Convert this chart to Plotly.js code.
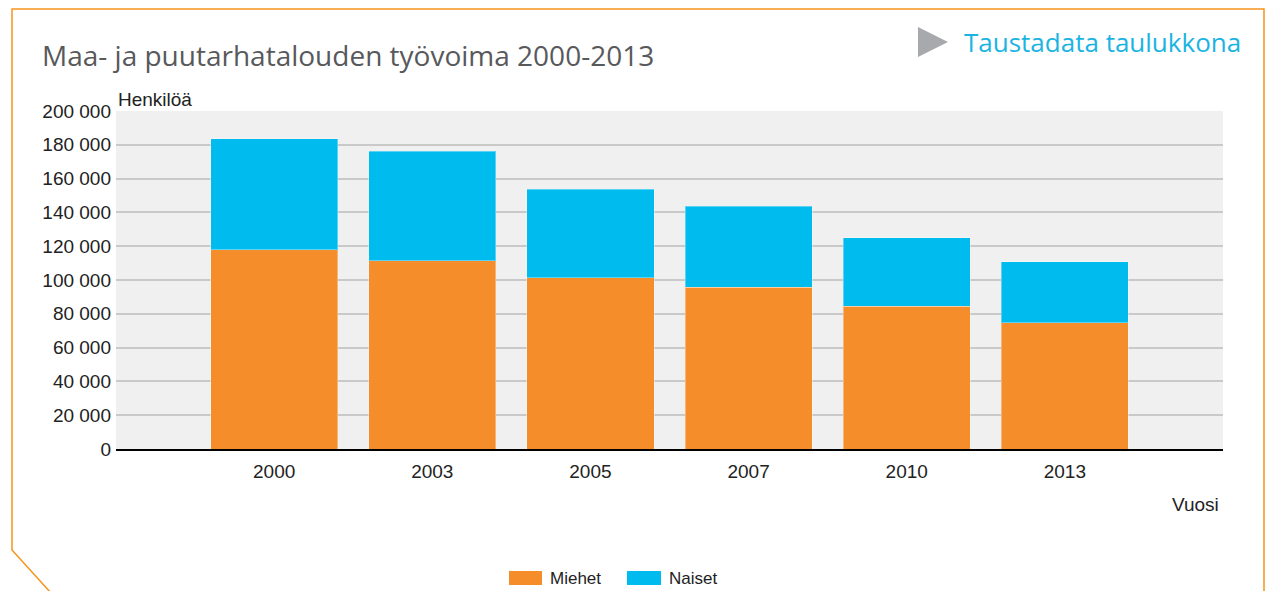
<!DOCTYPE html>
<html>
<head>
<meta charset="utf-8">
<script src="https://cdn.plot.ly/plotly-3.0.1.min.js"></script>
<style>
html,body{margin:0;padding:0;background:#fff;}
#chart{width:1272px;height:591px;}
</style>
</head>
<body>
<div id="chart"></div>
<script>
// ---- data ----
const years = ['2000', '2003', '2005', '2007', '2010', '2013'];
const miehet = [118000, 111400, 101200, 95700, 84400, 74700];
const naiset = [65500, 64700, 52600, 47900, 40600, 36000];
const seriesNames = ['Miehet', 'Naiset'];
const yTicks = [0, 20000, 40000, 60000, 80000, 100000, 120000, 140000, 160000, 180000, 200000];
const titleText = 'Maa- ja puutarhatalouden työvoima 2000-2013';
const linkText = 'Taustadata taulukkona';
const yLabel = 'Henkilöä';
const xLabel = 'Vuosi';

// ---- layout helpers (pixel -> paper) ----
const W = 1272, H = 591;
const M = {l: 116, r: 49, t: 111, b: 142};
const PW = W - M.l - M.r, PH = H - M.t - M.b;
const px = v => (v - M.l) / PW;
const py = v => (H - M.b - v) / PH;

const ORANGE = '#F58D2B';
const BLUE = '#00BBEE';
const FRAME = '#F7941D';
const FONT = 'Liberation Sans, Arial, sans-serif';

const traces = [
  {type: 'bar', name: seriesNames[0], x: years, y: miehet,
   marker: {color: ORANGE, line: {color: 'rgba(255,255,255,0.35)', width: 1}},
   hoverinfo: 'x+y+name'},
  {type: 'bar', name: seriesNames[1], x: years, y: naiset,
   marker: {color: BLUE, line: {color: 'rgba(255,255,255,0.35)', width: 1}},
   hoverinfo: 'x+y+name'}
];

const framePath = 'M ' + px(51) + ' ' + py(593) +
  ' L ' + px(12) + ' ' + py(550) +
  ' L ' + px(12) + ' ' + py(9) +
  ' L ' + px(1264) + ' ' + py(9) +
  ' L ' + px(1264) + ' ' + py(593);

const triPath = 'M ' + px(918) + ' ' + py(27) +
  ' L ' + px(948) + ' ' + py(42) +
  ' L ' + px(918) + ' ' + py(57) + ' Z';

const shapes = [
  {type: 'path', xref: 'paper', yref: 'paper', path: framePath,
   line: {color: FRAME, width: 1.5}},
  {type: 'path', xref: 'paper', yref: 'paper', path: triPath,
   fillcolor: '#A7A9AC', line: {width: 0}},
  // legend swatches
  {type: 'rect', xref: 'paper', yref: 'paper', x0: px(509), x1: px(542), y0: py(585), y1: py(571),
   fillcolor: ORANGE, line: {width: 0}},
  {type: 'rect', xref: 'paper', yref: 'paper', x0: px(627), x1: px(661), y0: py(585), y1: py(571),
   fillcolor: BLUE, line: {width: 0}}
];

const annotations = [
  {text: titleText, xref: 'paper', yref: 'paper', x: px(40), y: py(55), xanchor: 'left', yanchor: 'middle',
   showarrow: false, font: {family: 'Open Sans, sans-serif', size: 28, color: '#58595B'}},
  {text: linkText, xref: 'paper', yref: 'paper', x: px(962), y: py(42), xanchor: 'left', yanchor: 'middle',
   showarrow: false, font: {family: 'Open Sans, sans-serif', size: 26, color: '#1BB4E2'}},
  {text: yLabel, xref: 'paper', yref: 'paper', x: px(116), y: py(99), xanchor: 'left', yanchor: 'middle',
   showarrow: false, font: {family: FONT, size: 19, color: '#222'}},
  {text: xLabel, xref: 'paper', yref: 'paper', x: px(1221), y: py(504), xanchor: 'right', yanchor: 'middle',
   showarrow: false, font: {family: FONT, size: 19, color: '#222'}},
  {text: seriesNames[0], xref: 'paper', yref: 'paper', x: px(548), y: py(578), xanchor: 'left', yanchor: 'middle',
   showarrow: false, font: {family: FONT, size: 17, color: '#222'}},
  {text: seriesNames[1], xref: 'paper', yref: 'paper', x: px(667), y: py(578), xanchor: 'left', yanchor: 'middle',
   showarrow: false, font: {family: FONT, size: 17, color: '#222'}}
];

const layout = {
  width: W, height: H,
  margin: M,
  paper_bgcolor: '#ffffff',
  plot_bgcolor: '#F0F0F0',
  barmode: 'stack',
  bargap: 0.196,
  showlegend: false,
  separators: ', ',
  xaxis: {
    type: 'category', range: [-1, 6], fixedrange: true,
    showgrid: false, zeroline: false,
    showline: true, linecolor: '#000', linewidth: 2,
    ticks: '', ticklabelstandoff: 4,
    tickfont: {family: FONT, size: 19, color: '#222'}
  },
  yaxis: {
    range: [0, 200000], fixedrange: true,
    tickvals: yTicks, tickformat: ',d',
    showgrid: true, gridcolor: '#C9C9C9', gridwidth: 1.5,
    zeroline: false, showline: false,
    ticks: '', ticklabelstandoff: 4,
    tickfont: {family: FONT, size: 19, color: '#222'}
  },
  shapes: shapes,
  annotations: annotations
};

Plotly.newPlot('chart', traces, layout, {displayModeBar: false, staticPlot: false});
</script>
</body>
</html>
